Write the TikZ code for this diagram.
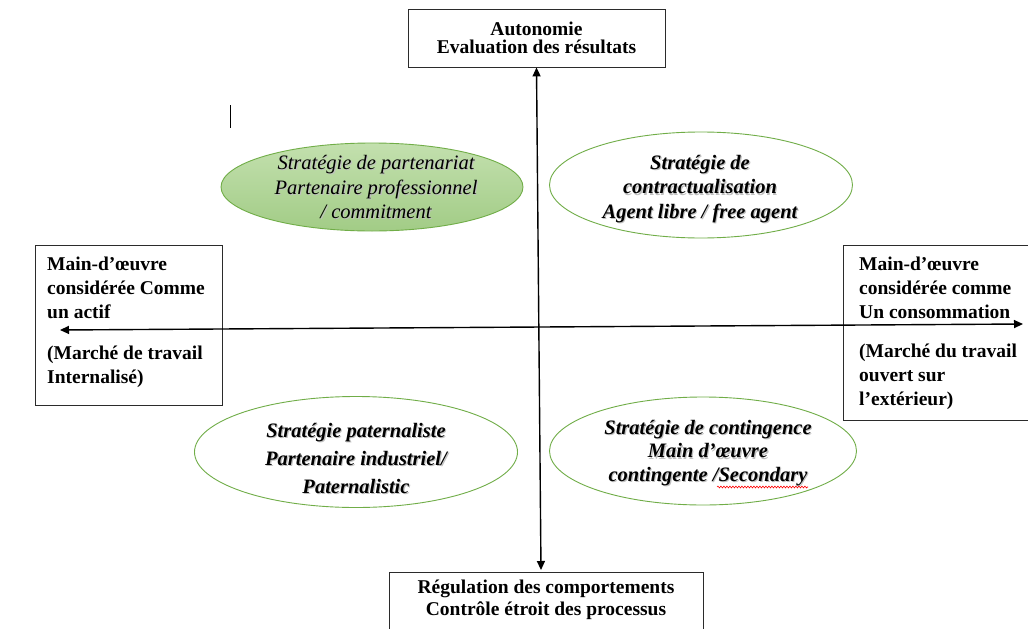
\documentclass[tikz,border=0pt]{standalone}
\usepackage{fontspec}
\setmainfont{Liberation Serif}
\usetikzlibrary{shapes.geometric,arrows.meta,calc,decorations.pathmorphing}
\definecolor{ellgreen}{HTML}{70AD47}
\definecolor{fillA}{HTML}{C3E0AE}
\definecolor{fillB}{HTML}{A2CC86}
\definecolor{boxline}{HTML}{2B2B2B}
\begin{document}
\begin{tikzpicture}[x=1pt,y=-1pt,
  frame/.style={draw=boxline, line width=0.9pt, inner sep=0pt},
  box/.style={draw=boxline, line width=0.9pt, font=\fontsize{19.5}{24}\selectfont\bfseries},
  boxtxt/.style={inner sep=0pt, font=\fontsize{19.5}{24}\selectfont\bfseries},
  ell/.style={ellipse, draw=ellgreen, line width=0.9pt, inner sep=0pt},
  elltxt/.style={align=center, inner sep=0pt},
  shd/.style={elltxt, text=black!25},
  axis/.style={line width=1.4pt, {Triangle[length=9pt,width=8pt]}-{Triangle[length=9pt,width=8pt]}}
]
\fill[white] (0,0) rectangle (1028,629);
\useasboundingbox (0,0) rectangle (1028,629);

% top box
\node[box, minimum width=257pt, minimum height=58pt, align=center,
      font=\fontsize{19.5}{18}\selectfont\bfseries] (top) at (536.5,38)
  {Autonomie\\Evaluation des résultats};
% bottom box (cut by the page edge)
\node[frame, anchor=north, minimum width=314pt, minimum height=90pt] (bot) at (546,572) {};
\node[boxtxt, align=center, font=\fontsize{19.5}{22}\selectfont\bfseries, anchor=base] (bott) at (546,615)
  {Régulation des comportements\\Contrôle étroit des processus};
% left box
\node[frame, anchor=north west, minimum width=187pt, minimum height=160pt] (left) at (35,245) {};
\node[boxtxt, align=left, anchor=base west] (leftt) at (47,383)
  {Main-d’œuvre\\considérée Comme\\un actif\\[17pt](Marché de travail\\Internalisé)};
% right box (cut by the page edge)
\node[frame, anchor=north west, minimum width=200pt, minimum height=175pt] (right) at (843,245) {};
\node[boxtxt, align=left, anchor=base west] (rightt) at (859,405)
  {Main-d’œuvre\\considérée comme\\Un consommation\\[15pt](Marché du travail\\ouvert sur\\l’extérieur)};

% ellipses
\node[ell, minimum width=302pt, minimum height=88pt, top color=fillA, bottom color=fillB] (tl) at (372,187) {};
\node[ell, minimum width=303pt, minimum height=106pt] (tr) at (701,185) {};
\node[ell, minimum width=323pt, minimum height=111pt] (bl) at (356,452) {};
\node[ell, minimum width=307pt, minimum height=108pt] (br) at (703,451) {};

% ellipse texts with soft shadow
\node[shd, font=\fontsize{20.5}{24.5}\selectfont\itshape] (tlsh) at (377.1,188.1)
  {Stratégie de partenariat\\Partenaire professionnel\\/ commitment};
\node[elltxt, font=\fontsize{20.5}{24.5}\selectfont\itshape] (tlt) at (376,187)
  {Stratégie de partenariat\\Partenaire professionnel\\/ commitment};
\node[shd, font=\fontsize{20.5}{24.5}\selectfont\bfseries\itshape] (trsh) at (701.1,190.1)
  {Stratégie de\\contractualisation\\Agent libre / free agent};
\node[elltxt, font=\fontsize{20.5}{24.5}\selectfont\bfseries\itshape] (trt) at (700,189)
  {Stratégie de\\contractualisation\\Agent libre / free agent};
\node[shd, font=\fontsize{20.5}{28}\selectfont\bfseries\itshape] (blsh) at (357.1,459.1)
  {Stratégie paternaliste\\Partenaire industriel/\\Paternalistic};
\node[elltxt, font=\fontsize{20.5}{28}\selectfont\bfseries\itshape] (blt) at (356,458)
  {Stratégie paternaliste\\Partenaire industriel/\\Paternalistic};
\node[shd, font=\fontsize{20.5}{23.5}\selectfont\bfseries\itshape] (brsh) at (709.1,454.1)
  {Stratégie de contingence\\Main d’œuvre\\contingente /Secondary};
\node[elltxt, font=\fontsize{20.5}{23.5}\selectfont\bfseries\itshape] (brt) at (708,453)
  {Stratégie de contingence\\Main d’œuvre\\contingente /Secondary};
\draw[red, line width=0.6pt, decorate, decoration={snake, amplitude=0.9pt, segment length=3pt}]
  (717,487) -- (808,487);

% axes
\coordinate (hl) at (60,330);
\coordinate (hr) at (1023,324);
\coordinate (vb) at (541,570);
\draw[axis] (hl) -- (hr);
\draw[axis] (top.south) -- (vb);

% text cursor mark
\draw[line width=0.8pt] (230,105) -- (230,128);
\end{tikzpicture}
\end{document}
